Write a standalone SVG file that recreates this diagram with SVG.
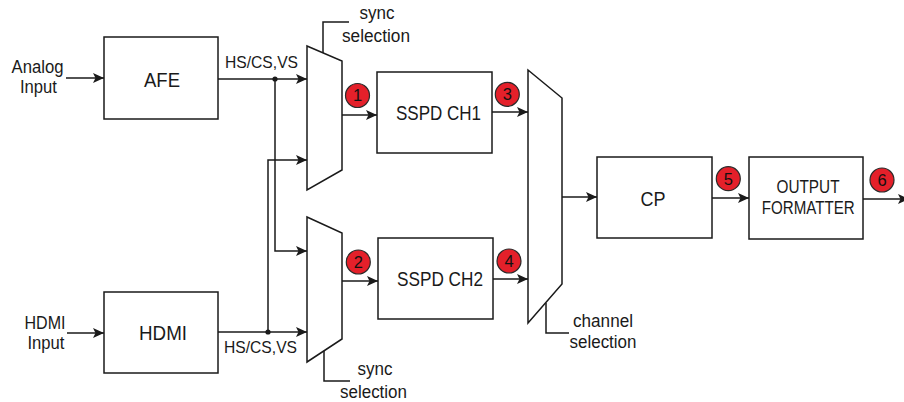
<svg xmlns="http://www.w3.org/2000/svg" width="904" height="402" viewBox="0 0 904 402">
<style>
.box{fill:#fff;stroke:#1a1a1a;stroke-width:1.5}
.mux{fill:#fff;stroke:#1a1a1a;stroke-width:1.5}
.ln{fill:none;stroke:#1a1a1a;stroke-width:1.5}
.t{font-family:"Liberation Sans",Arial,Helvetica,sans-serif;fill:#1a1a1a;text-anchor:middle}
.bt{font-size:21px}
.lb{font-size:17.5px}
.badge{fill:#e4202a;stroke:#2a2a2a;stroke-width:1.2}
.bn{font-family:"Liberation Sans",Arial,sans-serif;font-size:16.5px;fill:#111;text-anchor:middle}
</style>
<defs>
<marker id="arr" markerUnits="userSpaceOnUse" markerWidth="11" markerHeight="10" refX="11" refY="5" orient="auto">
<path d="M0,0 L11,5 L0,10 L2.5,5 z" fill="#1a1a1a"/>
</marker>
</defs>

<g id="connectors">
<line class="ln" x1="66" y1="78" x2="104" y2="78" marker-end="url(#arr)"/>
<line class="ln" x1="67" y1="333" x2="104" y2="333" marker-end="url(#arr)"/>
<line class="ln" x1="218" y1="79" x2="307" y2="79" marker-end="url(#arr)"/>
<polyline class="ln" points="275,79 275,251 307,251" marker-end="url(#arr)"/>
<line class="ln" x1="218" y1="332" x2="307" y2="332" marker-end="url(#arr)"/>
<polyline class="ln" points="268,332 268,160 307,160" marker-end="url(#arr)"/>
<circle cx="275" cy="79" r="2.6" fill="#1a1a1a"/>
<circle cx="268" cy="332" r="2.6" fill="#1a1a1a"/>
<line class="ln" x1="342" y1="115" x2="377" y2="115" marker-end="url(#arr)"/>
<line class="ln" x1="342" y1="281" x2="378" y2="281" marker-end="url(#arr)"/>
<line class="ln" x1="492" y1="112" x2="528" y2="112" marker-end="url(#arr)"/>
<line class="ln" x1="493" y1="279" x2="528" y2="279" marker-end="url(#arr)"/>
<line class="ln" x1="562" y1="197" x2="597" y2="197" marker-end="url(#arr)"/>
<line class="ln" x1="712" y1="198" x2="749" y2="198" marker-end="url(#arr)"/>
<line class="ln" x1="863" y1="199" x2="909" y2="199" marker-end="url(#arr)"/>
<polyline class="ln" points="323,53 323,22 349,22"/>
<polyline class="ln" points="324,351 324,381 350,381"/>
<polyline class="ln" points="546,303 546,333 569,333"/>
</g>

<g id="analog-input">
<text class="t lb" x="37.5" y="73" textLength="52" lengthAdjust="spacingAndGlyphs">Analog</text>
<text class="t lb" x="38.5" y="93" textLength="37" lengthAdjust="spacingAndGlyphs">Input</text>
</g>
<g id="hdmi-input">
<text class="t lb" x="45" y="329" textLength="41" lengthAdjust="spacingAndGlyphs">HDMI</text>
<text class="t lb" x="46" y="349" textLength="37" lengthAdjust="spacingAndGlyphs">Input</text>
</g>

<g id="afe">
<rect class="box" x="104" y="37" width="114" height="82"/>
<text class="t bt" x="162" y="87" textLength="36" lengthAdjust="spacingAndGlyphs">AFE</text>
</g>
<g id="hdmi">
<rect class="box" x="104" y="292" width="114" height="81"/>
<text class="t bt" x="163" y="340" textLength="48" lengthAdjust="spacingAndGlyphs">HDMI</text>
</g>

<g id="hscsvs-labels">
<text class="t" font-size="16.5" x="261.5" y="67.5" textLength="73" lengthAdjust="spacingAndGlyphs">HS/CS,VS</text>
<text class="t" font-size="16.5" x="260.5" y="353" textLength="73" lengthAdjust="spacingAndGlyphs">HS/CS,VS</text>
</g>

<g id="mux1">
<polygon class="mux" points="307,46 342,61 342,170 307,190"/>
<text class="t lb" x="377" y="19" textLength="35" lengthAdjust="spacingAndGlyphs">sync</text>
<text class="t lb" x="376" y="42" textLength="68" lengthAdjust="spacingAndGlyphs">selection</text>
</g>
<g id="mux2">
<polygon class="mux" points="307,217 342,233 342,339 307,362"/>
<text class="t lb" x="375" y="375" textLength="35" lengthAdjust="spacingAndGlyphs">sync</text>
<text class="t lb" x="373.5" y="398" textLength="67" lengthAdjust="spacingAndGlyphs">selection</text>
</g>
<g id="mux3">
<polygon class="mux" points="528,70 562,98 562,284 528,323"/>
<text class="t lb" x="603" y="327" textLength="60" lengthAdjust="spacingAndGlyphs">channel</text>
<text class="t lb" x="603" y="348" textLength="67" lengthAdjust="spacingAndGlyphs">selection</text>
</g>

<g id="sspd-ch1">
<rect class="box" x="377" y="72" width="115" height="81"/>
<text class="t bt" x="438.5" y="120" textLength="85" lengthAdjust="spacingAndGlyphs">SSPD CH1</text>
</g>
<g id="sspd-ch2">
<rect class="box" x="378" y="238" width="115" height="81"/>
<text class="t bt" x="440" y="286" textLength="86" lengthAdjust="spacingAndGlyphs">SSPD CH2</text>
</g>
<g id="cp">
<rect class="box" x="597" y="157" width="115" height="81"/>
<text class="t bt" x="653" y="205.5" textLength="25" lengthAdjust="spacingAndGlyphs">CP</text>
</g>
<g id="output-formatter">
<rect class="box" x="749" y="157" width="114" height="82"/>
<text class="t" font-size="17.5" x="808" y="193" textLength="63" lengthAdjust="spacingAndGlyphs">OUTPUT</text>
<text class="t" font-size="17.5" x="808.3" y="214" textLength="93" lengthAdjust="spacingAndGlyphs">FORMATTER</text>
</g>

<g id="badge-1"><circle class="badge" cx="357.5" cy="95.5" r="12"/><text class="bn" x="357.5" y="101.3">1</text></g>
<g id="badge-2"><circle class="badge" cx="358.3" cy="262" r="12"/><text class="bn" x="358.3" y="267.8">2</text></g>
<g id="badge-3"><circle class="badge" cx="507.3" cy="94.3" r="12"/><text class="bn" x="507.3" y="100.1">3</text></g>
<g id="badge-4"><circle class="badge" cx="509" cy="261" r="12"/><text class="bn" x="509" y="266.8">4</text></g>
<g id="badge-5"><circle class="badge" cx="728.3" cy="178.7" r="12"/><text class="bn" x="728.3" y="184.5">5</text></g>
<g id="badge-6"><circle class="badge" cx="882" cy="180" r="12"/><text class="bn" x="882" y="185.8">6</text></g>
</svg>
